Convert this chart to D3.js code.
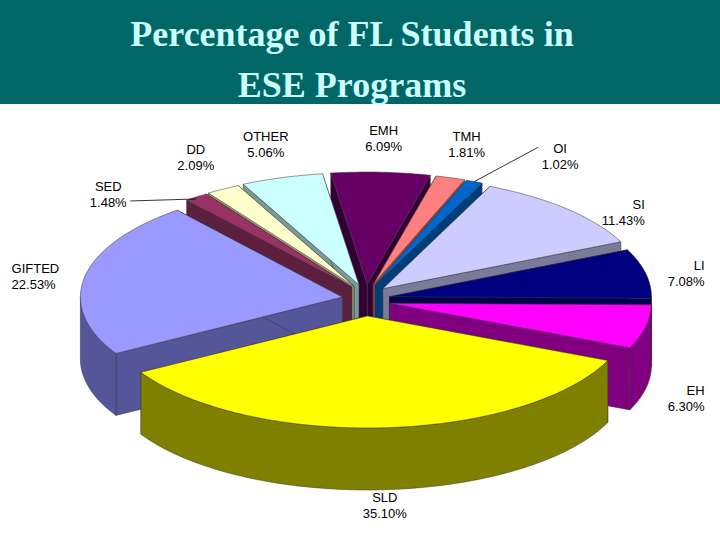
<!DOCTYPE html><html><head><script src="https://d3js.org/d3.v7.min.js"></script>
<style>body{margin:0;background:#fff}</style></head><body><svg id="c" width="720" height="540"></svg>
<script>
const categories=["EMH","TMH","OI","SI","LI","EH","SLD","GIFTED","SED","DD","OTHER"];
const values=[6.09,1.81,1.02,11.43,7.08,6.30,35.10,22.53,1.48,2.09,5.06];
const topColors=["#660066","#ff8080","#0066cc","#ccccff","#000080","#ff00ff","#ffff00","#9999ff","#993366","#ffffcc","#ccffff"];
const sideColors=["#330033","#994c4c","#003d7a","#7a7a99","#00004d","#800080","#808000","#55559a","#5c1f3d","#99997a","#7a9999"];
const svg=d3.select("#c");
svg.append("rect").attr("width",720).attr("height",104).attr("fill","#006666");
const tt=svg.append("text").attr("fill","#ccffff").attr("font-family","Liberation Serif, serif").attr("font-weight","bold").attr("font-size",36).attr("text-anchor","middle");
tt.append("tspan").attr("x",352).attr("y",46).text("Percentage of FL Students in");
tt.append("tspan").attr("x",352).attr("y",97).text("ESE Programs");
const cx=366,cy=300,rx=262,ry=112,depth=62;
const start=-8*Math.PI/180;
const arcs=d3.pie().sort(null).startAngle(start).endAngle(start+2*Math.PI)(values);
const g=svg.append("g");
function P(a,r,ox,oy,z){return [cx+ox+rx*r*Math.sin(a),cy+oy-ry*r*Math.cos(a)+z];}
function samp(a0,a1,ox,oy,z){const n=Math.max(2,Math.ceil((a1-a0)/0.02));return d3.range(n+1).map(i=>P(a0+(a1-a0)*i/n,1,ox,oy,z));}
const line=d3.line();
const items=arcs.map((d,i)=>{const mid=(d.startAngle+d.endAngle)/2;return {d,i,mid,ox:24*Math.sin(mid),oy:-16*Math.cos(mid)};});
const byIdx=items.slice();
items.sort((a,b)=>(-Math.cos(a.mid))-(-Math.cos(b.mid)));
items.forEach(it=>{
 const {d,i,ox,oy}=it, s=d.startAngle,e=d.endAngle;
 const c0=P(0,0,ox,oy,0),c1=P(0,0,ox,oy,depth);
 [s,e].forEach(a=>{const p0=P(a,1,ox,oy,0),p1=P(a,1,ox,oy,depth);
  g.append("path").attr("d",line([c0,p0,p1,c1])+"Z").attr("fill",sideColors[i]).attr("stroke","#333").attr("stroke-width",0.5);});
 for(let k=-1;k<=1;k++){const lo=Math.max(s,Math.PI/2+2*Math.PI*k),hi=Math.min(e,1.5*Math.PI+2*Math.PI*k);
  if(hi>lo){const top=samp(lo,hi,ox,oy,0),bot=samp(lo,hi,ox,oy,depth).reverse();
   g.append("path").attr("d",line(top.concat(bot))+"Z").attr("fill",sideColors[i]).attr("stroke","#333").attr("stroke-width",0.5);}}
 g.append("path").attr("d",line([c0].concat(samp(s,e,ox,oy,0)))+"Z").attr("fill",topColors[i]).attr("stroke","#333").attr("stroke-width",0.5);
});
const lab=svg.append("g").attr("font-family","Liberation Sans, Arial, sans-serif").attr("font-size",13).attr("fill","#000");
arcs.forEach((d,i)=>{
 const mid=(d.startAngle+d.endAngle)/2, sn=Math.sin(mid), cs=Math.cos(mid);
 const name=categories[i];
 const side=Math.abs(sn)>=0.5 && name!="SED";
 let [x,y]=P(mid,(cs>0&&!side)?1.3:1.22,0,0,0);
 if(cs<0) y+=depth+4; else y-= side?2:20;
 const it=byIdx[i];
 if(name=="SI"){x+=28;y+=8;}
 if(name=="OI"){x+=65;y+=8;
  const p=P(mid,1,it.ox,it.oy,0);svg.append("line").attr("x1",p[0]).attr("y1",p[1]).attr("x2",x-22).attr("y2",y-6).attr("stroke","#000").attr("stroke-width",0.8);}
 if(name=="SED"){
  const p=P(mid,1,it.ox,it.oy,0);
  x=p[0]-88;y=p[1]-6;
  svg.append("line").attr("x1",p[0]).attr("y1",p[1]+2).attr("x2",x+22).attr("y2",y+10).attr("stroke","#000").attr("stroke-width",0.8);}
 const anchor=side?(sn>0?"end":"start"):"middle";
 const ax = anchor=="end"? x+26 : anchor=="start"? x-40 : x;
 const t=lab.append("text").attr("text-anchor",anchor);
 t.append("tspan").attr("x",ax).attr("y",y).text(name);
 t.append("tspan").attr("x",ax).attr("y",y+16).text(values[i].toFixed(2)+"%");
});
</script></body></html>
